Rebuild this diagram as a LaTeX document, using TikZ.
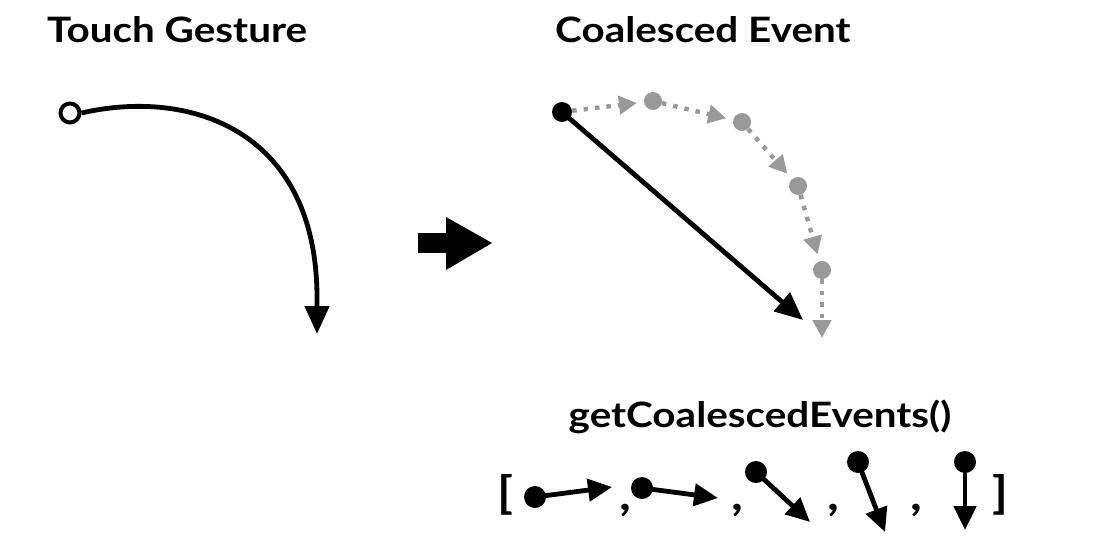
\documentclass[tikz,border=0pt]{standalone}
\usepackage{fontspec}
\setmainfont{Lato}[FakeStretch=1.155]
\usetikzlibrary{arrows.meta}
\begin{document}
\begin{tikzpicture}[x=1pt,y=-1pt,
  title/.style={font=\fontsize{35}{40}\selectfont\bfseries, inner sep=0pt, anchor=base west},
  blk/.style={line width=4.8pt, draw=black, -{Triangle[length=24pt,width=22pt]}},
  gr/.style={line width=4.5pt, draw=black!40, dash pattern=on 4.5pt off 7pt, -{Triangle[length=18pt,width=18pt]}, shorten >=7pt},
  bdot/.style={circle, fill=black, minimum size=20pt, inner sep=0pt},
  gdot/.style={circle, fill=black!40, minimum size=18pt, inner sep=0pt},
  sdot/.style={circle, fill=black, minimum size=22pt, inner sep=0pt},
  odot/.style={circle, draw=black, fill=white, line width=4pt, minimum size=19pt, inner sep=0pt},
  sym/.style={font=\fontsize{44}{48}\selectfont\bfseries, inner sep=0pt}]
\useasboundingbox (0,0) rectangle (1110,546);

% titles
\node[title] (t1) at (47,42) {Touch Gesture};
\node[title] (t2) at (555,42) {Coalesced Event};
\node[title, anchor=base] (t3) at (760,427) {getCoalescedEvents()};

% touch gesture
\node[odot] (o) at (70,113) {};
\coordinate (oe) at (317,334);
\draw[line width=4.8pt, -{Triangle[length=28pt,width=24pt]}] (o.east) .. controls (190,88) and (318,130) .. (317,300) -- (oe);

% big arrow
\fill (418,233) rectangle (448,253);
\fill (446,217) -- (492,243) -- (446,270) -- cycle;

% coalesced event
\node[bdot] (p0) at (562,112) {};
\node[gdot] (p1) at (653,101) {};
\node[gdot] (p2) at (742,122) {};
\node[gdot] (p3) at (798,186) {};
\node[gdot] (p4) at (822,270) {};
\coordinate (p5) at (822,338);
\coordinate (q) at (803,320);
\draw[gr] (p0) -- (p1);
\draw[gr] (p1) -- (p2);
\draw[gr] (p2) -- (p3);
\draw[gr] (p3) -- (p4);
\draw[gr, shorten >=0pt] (p4) -- (p5);
\draw[blk, -{Triangle[length=28pt,width=24pt]}] (p0.center) -- (q);

% coalesced events list
\node[sym] (lb) at (505,495) {[};
\node[sym] (rb) at (1000,495) {]};
\node[sdot] (a1) at (535,497) {};
\coordinate (a1e) at (612,487);
\draw[blk] (a1.center) -- (a1e);
\node[sym] (c1) at (625,510) {,};
\node[sdot] (a2) at (642,488) {};
\coordinate (a2e) at (718,498);
\draw[blk] (a2.center) -- (a2e);
\node[sym] (c2) at (737,510) {,};
\node[sdot] (a3) at (756,472) {};
\coordinate (a3e) at (810,522);
\draw[blk] (a3.center) -- (a3e);
\node[sym] (c3) at (833,510) {,};
\node[sdot] (a4) at (858,462) {};
\coordinate (a4e) at (885,532);
\draw[blk] (a4.center) -- (a4e);
\node[sym] (c4) at (916,510) {,};
\node[sdot] (a5) at (965,462) {};
\coordinate (a5e) at (965,530);
\draw[blk] (a5.center) -- (a5e);
\end{tikzpicture}
\end{document}
